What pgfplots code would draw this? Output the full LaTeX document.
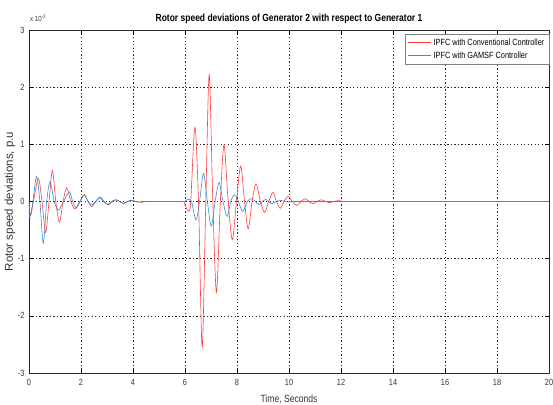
\documentclass[border=0pt]{standalone}
\usepackage{fontspec}
\setmainfont{Liberation Sans}[FakeStretch=0.82]
\newfontfamily\plainfont{Liberation Sans}
\usepackage{pgfplots}
\pgfplotsset{compat=1.18}
\definecolor{cred}{RGB}{255,60,60}
\definecolor{cblue}{RGB}{55,140,210}
\begin{document}
\begin{tikzpicture}
\useasboundingbox (-29bp,-32bp) rectangle (524bp,373bp);
\begin{axis}[
  at={(0,0)}, anchor=south west,
  scale only axis, width=520bp, height=343bp,
  xmin=0, xmax=20, ymin=-3, ymax=3,
  xtick={0,2,...,20}, ytick={-3,-2,...,3},
  /pgf/number format/assume math mode=true,
  grid=major,
  major grid style={black!85, dash pattern=on 1.2pt off 2.3pt, line width=0.45pt},
  tick align=inside, major tick length=4bp,
  tick style={black, line width=0.5pt},
  axis line style={black!85, line width=0.6pt},
  tick label style={font=\fontsize{9}{9}\selectfont, text=black!80},
  xticklabel style={yshift=-3bp},
  yticklabel style={xshift=-1bp},
  label style={font=\fontsize{10.5}{11}\selectfont, text=black!80},
  xlabel={Time, Seconds},
  xlabel style={yshift=-2bp},
  ylabel={Rotor speed deviations, p.u},
  ylabel style={at={(axis description cs:0,0.5)}, anchor=center, yshift=19bp,
    font=\plainfont\fontsize{11.5}{12}\selectfont},
  title={\bfseries Rotor speed deviations of Generator 2 with respect to Generator 1},
  title style={font=\fontsize{10.4}{11}\selectfont, yshift=-3bp},
  legend style={at={(1,1)}, anchor=north east, xshift=0bp, yshift=-4bp,
    draw=black!50, fill=white, font=\fontsize{9}{10}\selectfont,
    row sep=1pt, inner sep=2.5pt},
  legend cell align=left,
  clip mode=individual,
]
\addlegendimage{cred, line width=0.6pt, legend image code/.code={\draw[cred, line width=0.6pt] (0bp,0bp) -- (23bp,0bp);}}
\addlegendentry{IPFC with Conventional Controller}
\addlegendimage{cblue, line width=0.6pt, legend image code/.code={\draw[cblue, line width=0.6pt] (0bp,0bp) -- (23bp,0bp);}}
\addlegendentry{IPFC with GAMSF Controller}
% ---- Red: IPFC with Conventional Controller ----
\addplot[cred, line width=0.6pt, smooth, forget plot] coordinates {
(0,0) (0.06,-0.25) (0.17,0) (0.36,0.40) (0.50,0) (0.64,-0.54) (0.77,0)
(0.90,0.54) (1.03,0) (1.17,-0.36) (1.31,0) (1.45,0.24) (1.61,0) (1.77,-0.13)
(1.95,0) (2.13,0.12) (2.27,0) (2.41,-0.09) (2.57,0) (2.73,0.08) (2.89,0)
(3.05,-0.06) (3.20,0) (3.35,0.03) (3.50,0) (3.64,-0.04) (3.80,0) (3.96,0.02)
(4.12,0) (4.30,-0.015) (4.50,0)
};
\addplot[cred, line width=0.6pt, forget plot] coordinates {(4.5,0) (5.95,0)};
\addplot[cred, line width=0.6pt, smooth, forget plot] coordinates {
(5.95,0) (6.13,-0.17) (6.22,0) (6.38,1.30) (6.52,0) (6.66,-2.55) (6.80,0)
(6.93,2.22) (7.07,0) (7.21,-1.59) (7.36,0) (7.50,0.99) (7.66,0) (7.82,-0.67)
(7.98,0) (8.14,0.62) (8.29,0) (8.43,-0.48) (8.58,0) (8.73,0.31) (8.90,0)
(9.06,-0.19) (9.22,0) (9.38,0.16) (9.52,0) (9.66,-0.12) (9.81,0) (9.96,0.09)
(10.13,0) (10.30,-0.07) (10.46,0) (10.62,0.05) (10.77,0) (10.92,-0.04)
(11.08,0) (11.25,0.03) (11.40,0) (11.55,-0.02) (11.72,0) (11.90,0.015) (12.10,0)
};
% ---- Blue: IPFC with GAMSF Controller ----
\addplot[cblue, line width=0.6pt, smooth, forget plot] coordinates {
(0,0) (0.03,-0.28) (0.15,0) (0.29,0.44) (0.42,0) (0.55,-0.73) (0.68,0)
(0.81,0.35) (0.97,0) (1.13,-0.15) (1.33,0) (1.55,0.17) (1.68,0) (1.82,-0.11)
(1.97,0) (2.12,0.11) (2.27,0) (2.41,-0.06) (2.56,0) (2.71,0.07) (2.86,0)
(3.02,-0.05) (3.17,0) (3.32,0.03) (3.47,0) (3.62,-0.03) (3.77,0) (3.92,0.02)
(4.07,0) (4.22,-0.01) (4.40,0)
};
\addplot[cblue, line width=0.6pt, forget plot] coordinates {(4.4,0) (6.0,0)};
\addplot[cblue, line width=0.6pt, smooth, forget plot] coordinates {
(6.00,0) (6.12,0.04) (6.25,0) (6.42,-0.32) (6.56,0) (6.71,0.49) (6.86,0)
(7.01,-0.43) (7.16,0) (7.31,0.33) (7.46,0) (7.62,-0.26) (7.76,0) (7.90,0.12)
(8.05,0) (8.22,-0.17) (8.40,0) (8.55,0.05) (8.70,0) (8.85,-0.06) (8.97,0)
(9.10,0.035) (9.22,0) (9.35,-0.04) (9.52,0) (9.70,0.02) (9.85,0) (10.00,-0.01)
(10.20,0)
};
\addplot[cblue, line width=0.6pt, forget plot] coordinates {(10.2,0) (20,0)};
\node[anchor=south west, font=\fontsize{7.5}{8}\selectfont, text=black!80,
  inner sep=0pt, xshift=1bp, yshift=8bp] at (rel axis cs:0,1)
  {x 10\textsuperscript{-3}};
\end{axis}
\end{tikzpicture}
\end{document}
